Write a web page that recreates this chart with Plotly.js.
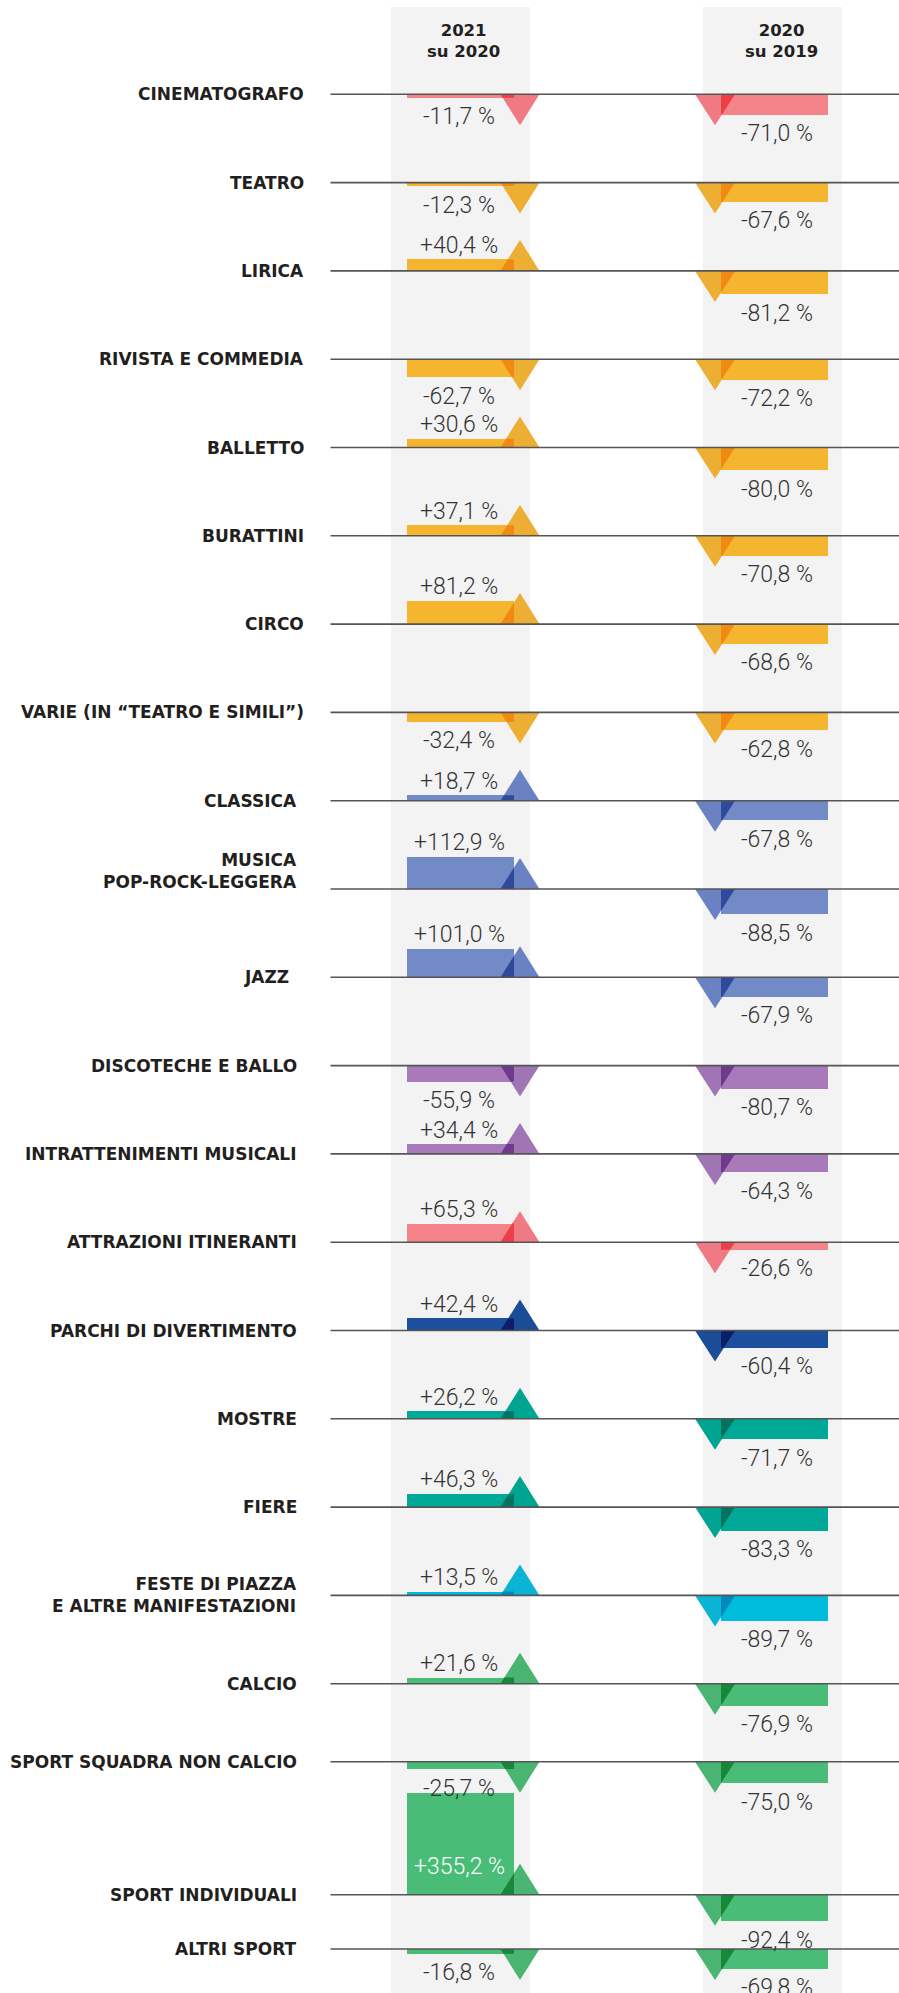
<!DOCTYPE html>
<html>
<head>
<meta charset="utf-8">
<script src="https://cdn.plot.ly/plotly-3.0.1.min.js"></script>
<style>
html,body{margin:0;padding:0;background:#ffffff;}
#chart{width:899px;height:1993px;}
</style>
</head>
<body>
<div id="chart"></div>
<script>
// ---------------- DATA ----------------
const categories = [
  "CINEMATOGRAFO",
  "TEATRO",
  "LIRICA",
  "RIVISTA E COMMEDIA",
  "BALLETTO",
  "BURATTINI",
  "CIRCO",
  "VARIE (IN “TEATRO E SIMILI”)",
  "CLASSICA",
  "MUSICA<br>POP-ROCK-LEGGERA",
  "JAZZ",
  "DISCOTECHE E BALLO",
  "INTRATTENIMENTI MUSICALI",
  "ATTRAZIONI ITINERANTI",
  "PARCHI DI DIVERTIMENTO",
  "MOSTRE",
  "FIERE",
  "FESTE DI PIAZZA<br>E ALTRE MANIFESTAZIONI",
  "CALCIO",
  "SPORT SQUADRA NON CALCIO",
  "SPORT INDIVIDUALI",
  "ALTRI SPORT"
];
const columnTitles = ["2021<br>su 2020", "2020<br>su 2019"];
const change2021vs2020 = [-11.7, -12.3, 40.4, -62.7, 30.6, 37.1, 81.2, -32.4, 18.7, 112.9, 101.0,
                          -55.9, 34.4, 65.3, 42.4, 26.2, 46.3, 13.5, 21.6, -25.7, 355.2, -16.8];
const change2020vs2019 = [-71.0, -67.6, -81.2, -72.2, -80.0, -70.8, -68.6, -62.8, -67.8, -88.5, -67.9,
                          -80.7, -64.3, -26.6, -60.4, -71.7, -83.3, -89.7, -76.9, -75.0, -92.4, -69.8];

// ---------------- STYLE / LAYOUT ----------------
const colorGroup = [0,1,1,1,1,1,1,1,2,2,2,3,3,0,4,5,5,6,7,7,7,7];
const palette = [
  {bar:'#F5838A', tri:'#EF7A83', ov:'#EE3E47'},  // red
  {bar:'#F6B52E', tri:'#EDAF33', ov:'#F08A12'},  // yellow
  {bar:'#728AC6', tri:'#6A82C1', ov:'#2F4A9B'},  // blue
  {bar:'#A97ABA', tri:'#A075B3', ov:'#6F3A8B'},  // purple
  {bar:'#1C4F9D', tri:'#1B4C98', ov:'#0B1E66'},  // dark blue
  {bar:'#00A997', tri:'#00A592', ov:'#00745E'},  // teal
  {bar:'#00BCDC', tri:'#0AB4D4', ov:'#0089BF'},  // cyan
  {bar:'#49BD78', tri:'#4AB572', ov:'#178839'}   // green
];
const W = 899, H = 1993;
const K = 0.285;                 // pixels per percentage point
const py = p => -p / K;          // pixel row -> y axis units
const rowPx = [94.3, 182.6, 270.9, 359.2, 447.5, 535.8, 624.1, 712.4, 800.7, 889.0, 977.3,
               1065.6, 1153.9, 1242.2, 1330.5, 1418.8, 1507.1, 1595.4, 1683.7, 1761.7, 1894.7, 1949.0];
const labelRight = rowPx.map((_, i) => i < 8 ? 305.5 : (i === 10 ? 291 : 298.5));
const labelShift = rowPx.map((_, i) => i === 9 ? 18 : 0);
const baseY = rowPx.map(py);
const TRI_PX = 31;
const TRI_H = TRI_PX / K;

const cols = [
  {vals: change2021vs2020, barL: 406.7, barR: 514.0, triL: 500.5, triC: 520.0, triR: 539.5,
   labelX: 459, headX: 463, bgL: 391, bgR: 530},
  {vals: change2020vs2019, barL: 721.0, barR: 827.7, triL: 695.0, triC: 715.0, triR: 735.0,
   labelX: 776.5, headX: 781, bgL: 703, bgR: 842}
];

// clip polygon (local coords: y = magnitude from baseline) to a rectangle
function clip(poly, x0, x1, y0, y1) {
  const edges = [
    [p => p[0] >= x0, (a,b) => { const t=(x0-a[0])/(b[0]-a[0]); return [x0, a[1]+t*(b[1]-a[1])]; }],
    [p => p[0] <= x1, (a,b) => { const t=(x1-a[0])/(b[0]-a[0]); return [x1, a[1]+t*(b[1]-a[1])]; }],
    [p => p[1] >= y0, (a,b) => { const t=(y0-a[1])/(b[1]-a[1]); return [a[0]+t*(b[0]-a[0]), y0]; }],
    [p => p[1] <= y1, (a,b) => { const t=(y1-a[1])/(b[1]-a[1]); return [a[0]+t*(b[0]-a[0]), y1]; }]
  ];
  let out = poly;
  for (const [inside, inter] of edges) {
    const inp = out; out = [];
    for (let i = 0; i < inp.length; i++) {
      const cur = inp[i], prev = inp[(i + inp.length - 1) % inp.length];
      if (inside(cur)) {
        if (!inside(prev)) out.push(inter(prev, cur));
        out.push(cur);
      } else if (inside(prev)) {
        out.push(inter(prev, cur));
      }
    }
    if (!out.length) break;
  }
  return out;
}

const traces = [];
const annotations = [];
const shapes = [];

cols.forEach((c, ci) => {
  // background column
  shapes.push({type:'rect', layer:'below', xref:'x', yref:'paper',
    x0:c.bgL, x1:c.bgR, y0:0, y1:(H-7)/H, fillcolor:'#F3F3F3', line:{width:0}});
  // header
  annotations.push({xref:'x', yref:'y', x:c.headX, y:py(41), xanchor:'center', yanchor:'middle',
    text:columnTitles[ci], showarrow:false, align:'center',
    font:{family:'DejaVu Sans', size:16.5, weight:'bold', color:'#231F20'}});
  // bars
  traces.push({
    type:'bar', orientation:'v',
    x: c.vals.map(() => (c.barL + c.barR) / 2),
    y: c.vals,
    base: baseY,
    width: c.vals.map(() => c.barR - c.barL),
    marker:{color: c.vals.map((v,i) => palette[colorGroup[i]].bar), line:{width:0}},
    hoverinfo:'skip'
  });
  c.vals.forEach((v, i) => {
    const s = v >= 0 ? 1 : -1;
    const b = baseY[i];
    const pal = palette[colorGroup[i]];
    // triangle
    traces.push({type:'scatter', mode:'lines', fill:'toself', fillcolor:pal.tri,
      x:[c.triL, c.triR, c.triC, c.triL], y:[b, b, b + s*TRI_H, b],
      line:{width:0, color:pal.tri}, hoverinfo:'skip'});
    // overlap of triangle and bar
    const tri = [[c.triL,0],[c.triR,0],[c.triC,TRI_H]];
    const ov = clip(tri, c.barL, c.barR, 0, Math.abs(v));
    if (ov.length > 2) {
      traces.push({type:'scatter', mode:'lines', fill:'toself', fillcolor:pal.ov,
        x: ov.map(p => p[0]).concat([ov[0][0]]),
        y: ov.map(p => b + s*p[1]).concat([b + s*ov[0][1]]),
        line:{width:0, color:pal.ov}, hoverinfo:'skip'});
    }
    // value label
    const txt = (v > 0 ? '+' : '') + v.toFixed(1).replace('.', ',') + ' %';
    const inside = v * K > 60;
    let ann = {xref:'x', yref:'y', x:c.labelX, xanchor:'center', text:txt, showarrow:false,
      font:{family:'Roboto', size:23, weight:300, color: inside ? '#FFFFFF' : '#333333'}};
    if (inside) { ann.y = b; ann.yanchor = 'middle'; ann.yshift = 28; }
    else if (v < 0) { ann.y = b + v; ann.yanchor = 'top'; ann.yshift = -3.5; }
    else { ann.y = b + v; ann.yanchor = 'bottom'; ann.yshift = -1.5; }
    annotations.push(ann);
  });
});

// baselines
const lx = [], ly = [];
baseY.forEach(b => { lx.push(330.5, W, null); ly.push(b, b, null); });
traces.push({type:'scatter', mode:'lines', x:lx, y:ly, line:{color:'#555555', width:1.6},
  hoverinfo:'skip', connectgaps:false});

// category labels
categories.forEach((cat, i) => {
  annotations.push({xref:'x', yref:'y', x:labelRight[i], y:baseY[i], xanchor:'right', yanchor:'middle',
    yshift: labelShift[i], text:cat, showarrow:false, align:'right',
    font:{family:'DejaVu Sans', size:17, weight:'bold', color:'#231F20'}});
});

const layout = {
  width:W, height:H, autosize:false,
  margin:{l:0, r:0, t:0, b:0, pad:0},
  paper_bgcolor:'#FFFFFF', plot_bgcolor:'#FFFFFF',
  showlegend:false, barmode:'overlay', bargap:0,
  xaxis:{range:[0, W], visible:false, fixedrange:true},
  yaxis:{range:[py(H), 0], visible:false, fixedrange:true},
  shapes:shapes, annotations:annotations, hovermode:false
};

Plotly.newPlot('chart', traces, layout, {staticPlot:true, displayModeBar:false});
</script>
</body>
</html>
